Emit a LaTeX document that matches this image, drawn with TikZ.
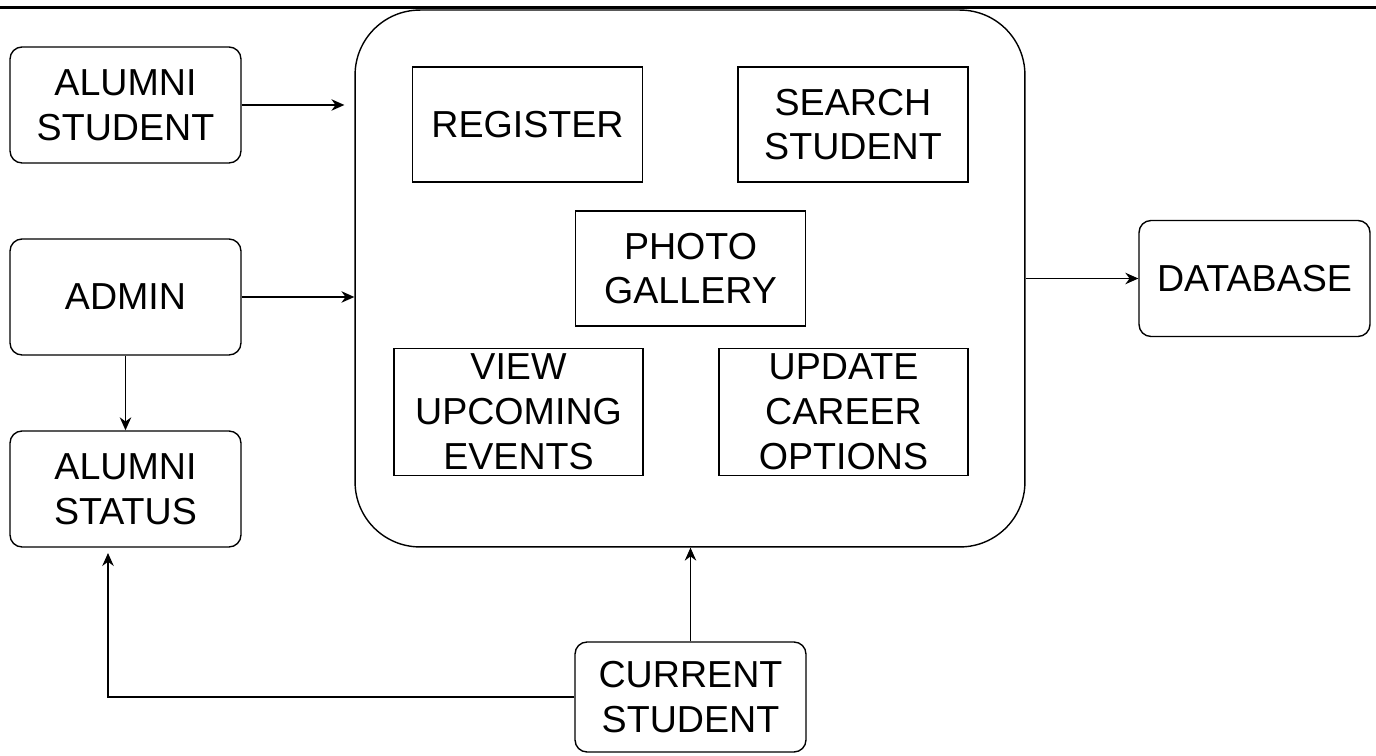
\documentclass[tikz,border=0pt]{standalone}
\usepackage{fontspec}
\setmainfont{Liberation Sans}
\usetikzlibrary{arrows.meta}

\begin{document}
\begin{tikzpicture}[x=0.02cm, y=-0.02cm, line width=0.8pt,
    >={Stealth[length=2.6mm, width=2.3mm]},
    font=\fontsize{21.4}{25.5}\selectfont]
    \useasboundingbox (0, 0) rectangle (1376, 756);
    \draw[line width=1.8pt] (0, 7.5) -- (1376, 7.5);

    \node[draw, rounded corners=1.3cm, minimum width=13.4cm,
      minimum height=10.74cm] (portal) at (690, 278.5) {};

    \begin{scope}[every node/.style={rectangle, draw, rounded corners=2.4mm,
        align=center, minimum width=4.62cm, minimum height=2.32cm}]
      \node (alumni) at (125.5, 105) {ALUMNI\\STUDENT};
      \node (admin) at (125.5, 297) {ADMIN};
      \node (status) at (125.5, 489) {ALUMNI\\STATUS};
      \node (database) at (1254.5, 278.5) {DATABASE};
      \node[minimum height=2.2cm] (current) at (690.5, 697) {CURRENT\\STUDENT};
    \end{scope}
    \begin{scope}[every node/.style={rectangle, draw, align=center,
        minimum width=4.6cm, minimum height=2.3cm}]
      \node (register) at (527.5, 124.5) {REGISTER};
      \node (search) at (853, 124.5) {SEARCH\\STUDENT};
      \node (gallery) at (690.5, 268.5) {PHOTO\\GALLERY};
      \node[minimum width=4.98cm] (events) at (518.5, 412) {VIEW\\UPCOMING\\EVENTS};
      \node[minimum width=4.98cm] (career) at (843.5, 412) {UPDATE\\CAREER\\OPTIONS};
    \end{scope}

    \coordinate (statusin) at (108, 553);
    \draw[->, shorten >=2mm] (alumni) -- (alumni -| portal.west);
    \draw[->] (admin) -- (admin -| portal.west);
    \draw[->] (admin) -- (status);
    \draw[->] (portal) -- (database);
    \draw[->] (current) -- (current |- portal.south);
    \draw[->] (current.west) -| (statusin);
  \end{tikzpicture}
\end{document}
